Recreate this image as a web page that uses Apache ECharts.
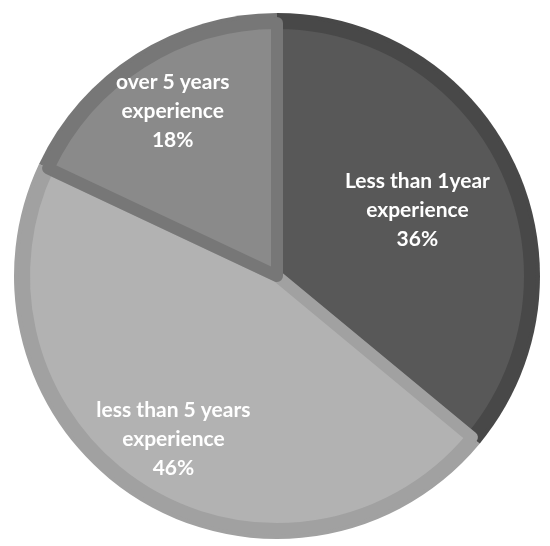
<!DOCTYPE html>
<html>
<head>
<meta charset="utf-8">
<script src="https://cdn.jsdelivr.net/npm/echarts@6/dist/echarts.min.js"></script>
<style>
  html, body { margin: 0; padding: 0; background: #fff; }
  #chart { width: 550px; height: 546px; }
</style>
</head>
<body>
<div id="chart"></div>
<script>
var categories = ["Less than 1year\nexperience", "less than 5 years\nexperience", "over 5 years\nexperience"];
var values = [36, 46, 18];
var innerColors = ["#585858", "#b2b2b2", "#8a8a8a"];
var rimColors = ["#484848", "#a1a1a1", "#777777"];
var labelR = [0.59, 0.735, 0.74];

var cx = 277, cy = 276, R = 263;

var myChart = echarts.init(document.getElementById("chart"));

var total = values.reduce(function (a, b) { return a + b; }, 0);
function midAngle(i) {
  var s = 0;
  for (var k = 0; k < i; k++) s += values[k];
  return (s + values[i] / 2) / total * Math.PI * 2;
}

var outerData = categories.map(function (c, i) {
  return { name: c, value: values[i], itemStyle: { color: rimColors[i] } };
});
var innerData = categories.map(function (c, i) {
  return { name: c, value: values[i], itemStyle: { color: innerColors[i], borderColor: rimColors[i] } };
});

myChart.setOption({
  animation: false,
  series: [
    {
      type: "pie",
      center: [cx, cy],
      radius: [0, R],
      startAngle: 90,
      clockwise: true,
      silent: true,
      label: { show: false },
      labelLine: { show: false },
      data: outerData
    },
    {
      type: "pie",
      center: [cx, cy],
      radius: [0, R - 10],
      startAngle: 90,
      clockwise: true,
      itemStyle: { borderWidth: 12, borderJoin: "round" },
      label: {
        show: true,
        position: "inside",
        color: "#fff",
        fontFamily: "Lato",
        fontWeight: "bold",
        fontSize: 21,
        lineHeight: 29,
        formatter: function (p) { return p.name + "\n" + p.value + "%"; }
      },
      labelLine: { show: false },
      labelLayout: function (p) {
        var i = p.dataIndex;
        var a = midAngle(i);
        var r = labelR[i] * R;
        return {
          x: cx + r * Math.sin(a),
          y: cy - r * Math.cos(a),
          align: "center",
          verticalAlign: "middle"
        };
      },
      data: innerData
    }
  ]
});
</script>
</body>
</html>
